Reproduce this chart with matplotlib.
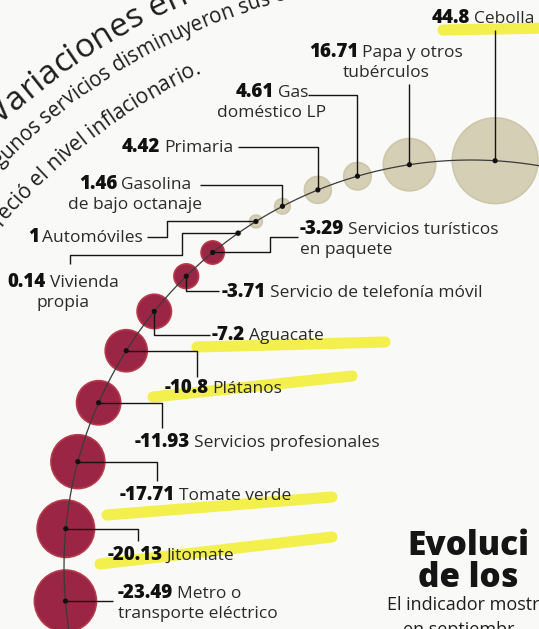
import numpy as np
import matplotlib.pyplot as plt
from matplotlib.patches import Circle
from matplotlib.font_manager import FontProperties

plt.rcParams['font.family'] = ['Open Sans', 'DejaVu Sans']

# datos: variacion porcentual por producto / servicio
nums = ['44.8', '16.71', '4.61', '4.42', '1.46', '1', '0.14', '-3.29', '-3.71',
        '-7.2', '-10.8', '-11.93', '-17.71', '-20.13', '-23.49']
valores = [float(v) for v in nums]
nombres = [['Cebolla'], ['Papa y otros', 'tubérculos'], ['Gas', 'doméstico LP'],
           ['Primaria'], ['Gasolina', 'de bajo octanaje'], ['Automóviles'],
           ['Vivienda', 'propia'], ['Servicios turísticos', 'en paquete'],
           ['Servicio de telefonía móvil'], ['Aguacate'], ['Plátanos'],
           ['Servicios profesionales'], ['Tomate verde'], ['Jitomate'],
           ['Metro o', 'transporte eléctrico']]
resaltados = ['Cebolla', 'Aguacate', 'Plátanos', 'Tomate verde', 'Jitomate']

# layout (pixeles, y hacia abajo)
W, H = 539, 629
cx, cy, R = 471, 567, 407          # arco de las burbujas
angulos = [86.6, 98.7, 106.2, 112.1, 117.6, 121.9, 124.9, 129.4, 134.4,
           141.1, 147.9, 156.2, 165.0, 174.6, 184.8]
k = 6.4                            # radio = k*sqrt(|v|)
# posicion de la etiqueta: x, y base, alineacion
etiq = [(432, 23, 'left'), (386, 57, 'center'), (272, 97, 'center'),
        (233, 152, 'right'), (135, 189, 'center'), (143, 242, 'right'),
        (63, 287, 'center'), (300, 234, 'left'), (222, 297, 'left'),
        (212, 340, 'left'), (165, 393, 'left'), (135, 447, 'left'),
        (120, 500, 'left'), (108, 560, 'left'), (118, 598, 'left')]
# lineas guia desde el punto
guias = [[('v', 30)], [('v', 84)], [('v', 95), ('h', 308)],
         [('v', 147), ('h', 238)], [('v', 185), ('h', 200)],
         [('h', 167), ('v', 237), ('h', 147)],
         [('h', 182), ('v', 255), ('h', 70), ('v', 264)],
         [('h', 270), ('v', 237), ('h', 298)],
         [('v', 291), ('h', 219)], [('v', 335), ('h', 210)],
         [('h', 197), ('v', 377)], [('h', 162), ('v', 428)],
         [('h', 157), ('v', 481)], [('h', 138), ('v', 541)], [('h', 113)]]
# trazos de marcador (desde la etiqueta)
marcas = {'Cebolla': (11, 7, 115, 5), 'Aguacate': (-15, 7, 173, 2),
          'Plátanos': (-12, 4, 187, -17), 'Tomate verde': (-13, 15, 212, -3),
          'Jitomate': (-8, 4, 224, -23)}

fig = plt.figure(figsize=(W / 100, H / 100), dpi=100)
fig.patch.set_facecolor('#f9f9f7')
ax = fig.add_axes([0, 0, 1, 1])
ax.set_xlim(0, W)
ax.set_ylim(H, 0)
ax.axis('off')
rend = fig.canvas.get_renderer()

def ancho(t):
    return t.get_window_extent(renderer=rend).width

def arc_text(s, c0, c1, rad, phi0, size, weight='normal'):
    fp = FontProperties(family=['Open Sans', 'DejaVu Sans'], size=size, weight=weight)
    def w(sub):
        return rend.get_text_width_height_descent(sub + '|', fp, ismath=False)[0] - \
            rend.get_text_width_height_descent('|', fp, ismath=False)[0]
    for i, ch in enumerate(s):
        if ch == ' ':
            continue
        mid = w(s[:i]) + w(ch) / 2
        phi = np.radians(phi0) - mid / rad
        x, y = c0 + rad * np.cos(phi), c1 - rad * np.sin(phi)
        if x < -6 or y < -6:
            continue
        ax.text(x, y, ch, fontproperties=fp,
                rotation=np.degrees(phi) - 90, ha='center', va='baseline',
                rotation_mode='anchor', color='#1e1e1e')

# titulo curvo
arc_text('Variaciones en', 440, 590, 640, 133.4, 24)
arc_text('Algunos servicios disminuyeron sus costos', 440, 590, 610, 137.9, 14.8)
arc_text('preció el nivel inflacionario.', 440, 590, 570, 141.7, 15.2)

# arco
t = np.radians(np.linspace(80, 190, 300))
ax.plot(cx + R * np.cos(t), cy - R * np.sin(t), color='#3a3a3a', lw=0.9, zorder=3)

for v, ang in zip(valores, angulos):
    px, py = cx + R * np.cos(np.radians(ang)), cy - R * np.sin(np.radians(ang))
    col = '#d5cfb6' if v > 0 else '#9a2545'
    ax.add_patch(Circle((px, py), k * np.sqrt(abs(v)), fc=col,
                        ec='#cdc6a8' if v > 0 else '#b53b4a', lw=1.2, zorder=2))
    ax.add_patch(Circle((px, py), 2.6, fc='#111111', ec='none', zorder=5))

for name, num, (lx, ly, ha), g, ang in zip(nombres, nums, etiq, guias, angulos):
    px, py = cx + R * np.cos(np.radians(ang)), cy - R * np.sin(np.radians(ang))
    xs, ys = [px], [py]
    for d, val in g:
        if d == 'h':
            xs.append(val); ys.append(ys[-1])
        else:
            xs.append(xs[-1]); ys.append(val)
    ax.plot(xs, ys, color='#151515', lw=1.0, zorder=4, solid_capstyle='butt')

    t1 = ax.text(0, ly, num, fontsize=13.5, fontweight=800, va='baseline', color='#111111', zorder=6)
    t2 = ax.text(0, ly, name[0], fontsize=12.5, va='baseline', color='#2a2a2a', zorder=6)
    esp = 3.5
    tot = ancho(t1) + esp + ancho(t2)
    x0 = lx if ha == 'left' else (lx - tot / 2 if ha == 'center' else lx - tot)
    t1.set_x(x0)
    t2.set_x(x0 + ancho(t1) + esp)
    for j, linea in enumerate(name[1:], 1):
        ax.text(x0 if ha == 'left' else lx, ly + 20 * j, linea, fontsize=12.5,
                ha=ha, va='baseline', color='#2a2a2a', zorder=6)
    if name[0] in resaltados:
        a, b, c, d = marcas[name[0]]
        ax.plot([x0 + a, x0 + c], [ly + b, ly + d], color='#f2ee2e', lw=8, alpha=0.85,
                solid_capstyle='round', zorder=1)

# texto de la nota siguiente (recortado)
ax.text(407, 555, 'Evoluci', fontsize=24, fontweight=800, va='baseline', color='#151515')
ax.text(418, 587, 'de los', fontsize=24, fontweight=800, va='baseline', color='#151515')
ax.text(387, 610, 'El indicador mostr', fontsize=13, va='baseline', color='#1e1e1e')
ax.text(403, 635, 'en septiembr', fontsize=13, va='baseline', color='#1e1e1e')

fig.savefig('out.png', dpi=100, facecolor=fig.get_facecolor())
